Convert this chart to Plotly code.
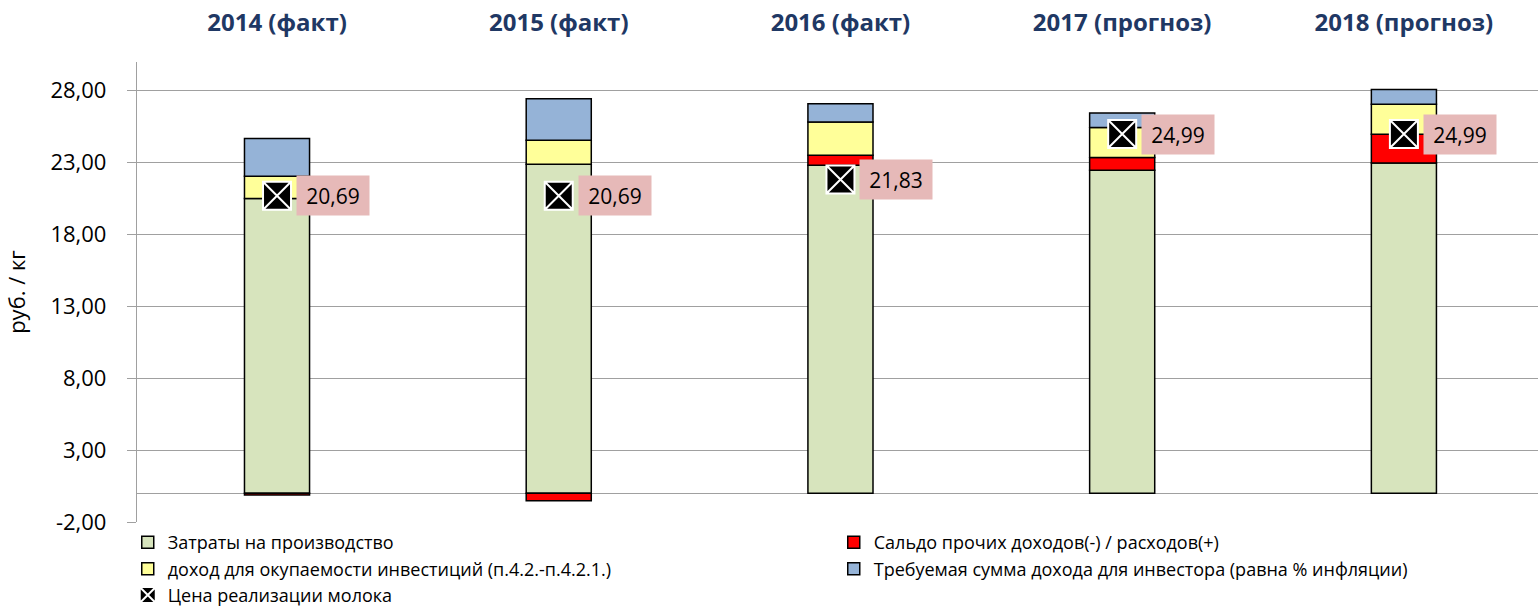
import plotly.graph_objects as go

categories = ["2014 (факт)", "2015 (факт)", "2016 (факт)", "2017 (прогноз)", "2018 (прогноз)"]
production_costs = [20.50, 22.89, 22.82, 22.47, 22.98]
other_balance = [-0.13, -0.53, 0.69, 0.88, 1.99]
investment_income = [1.55, 1.66, 2.32, 2.09, 2.09]
investor_income = [2.62, 2.90, 1.27, 1.01, 1.02]
milk_price = [20.69, 20.69, 21.83, 24.99, 24.99]
milk_price_labels = ["20,69", "20,69", "21,83", "24,99", "24,99"]
y_ticks = [-2, 3, 8, 13, 18, 23, 28]
y_tick_labels = ["-2,00", "3,00", "8,00", "13,00", "18,00", "23,00", "28,00"]

FONT = "Open Sans"
bar_line = dict(color="#000000", width=1.5)
bw = 0.231

fig = go.Figure()
fig.add_trace(go.Bar(x=categories, y=production_costs, name="Затраты на производство",
                     marker=dict(color="#D7E4BD", line=bar_line), width=bw))
fig.add_trace(go.Bar(x=categories, y=other_balance, name="Сальдо прочих доходов(-) / расходов(+)",
                     marker=dict(color="#FF0000", line=bar_line), width=bw))
fig.add_trace(go.Bar(x=categories, y=investment_income, name="доход для окупаемости инвестиций (п.4.2.-п.4.2.1.)",
                     marker=dict(color="#FFFF99", line=bar_line), width=bw))
fig.add_trace(go.Bar(x=categories, y=investor_income, name="Требуемая сумма дохода для инвестора (равна % инфляции)",
                     marker=dict(color="#95B3D7", line=bar_line), width=bw))
fig.add_trace(go.Scatter(x=categories, y=milk_price, name="Цена реализации молока", mode="markers",
                         marker=dict(symbol="square-x", size=28, color="#000000",
                                     line=dict(color="#FFFFFF", width=2))))

for c, v, t in zip(categories, milk_price, milk_price_labels):
    fig.add_annotation(x=c, y=v, xref="x", yref="y", text=t, showarrow=False,
                       xshift=56, width=70, height=37, bgcolor="#E6B9B8",
                       font=dict(family=FONT, size=21, color="#000000"))

fig.update_layout(
    width=1539, height=609,
    margin=dict(l=137, r=1, t=62, b=87, autoexpand=False),
    barmode="relative",
    plot_bgcolor="#FFFFFF", paper_bgcolor="#FFFFFF",
    font=dict(family=FONT, color="#000000"),
    showlegend=True,
    legend=dict(orientation="h", x=-0.0066, xanchor="left", y=-0.0045, yanchor="top",
                entrywidth=661, entrywidthmode="pixels", traceorder="normal",
                font=dict(family=FONT, size=18, color="#000000"), tracegroupgap=0,
                itemclick=False),
    xaxis=dict(side="top", range=[-0.497, 4.476], showgrid=False, showline=False,
               ticks="", ticklabelstandoff=25, automargin=False,
               tickfont=dict(family=FONT, size=24, color="#1F3864", weight="bold")),
    yaxis=dict(range=[-2, 30], tickvals=y_ticks, ticktext=y_tick_labels, automargin=False,
               showgrid=True, gridcolor="#A0A0A0", gridwidth=1.3,
               zeroline=True, zerolinecolor="#A0A0A0", zerolinewidth=1.3,
               showline=True, linecolor="#A0A0A0", linewidth=1.3,
               ticks="outside", ticklen=9, tickcolor="#A0A0A0", ticklabelstandoff=16,
               tickfont=dict(family=FONT, size=22, color="#000000"),
               title=dict(text="руб. / кг", standoff=18, font=dict(family=FONT, size=22, color="#000000"))),
)

fig.write_html("out.html", config={"displayModeBar": False},
               post_script="document.body.style.margin='0';")
